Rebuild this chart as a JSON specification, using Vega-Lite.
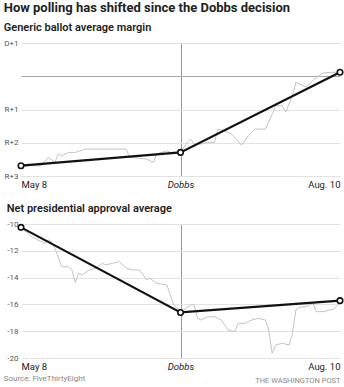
{
  "$schema": "https://vega.github.io/schema/vega-lite/v6.json",
  "background": "white",
  "padding": {"left": 3, "top": 2, "right": 4, "bottom": 3},
  "spacing": 14,
  "title": {"text": "Source: FiveThirtyEight", "orient": "bottom", "anchor": "start", "frame": "bounds", "font": "Roboto", "fontSize": 8, "fontWeight": "normal", "color": "#888", "offset": -9},
  "config": {
    "view": {"stroke": null},
    "font": "Roboto"
  },
  "datasets": {
    "ballot": [
      {"date": "2022-05-08", "value": -2.69}, {"date": "2022-05-14", "value": -2.69}, {"date": "2022-05-16", "value": -2.44},
      {"date": "2022-05-18", "value": -2.59}, {"date": "2022-05-19", "value": -2.34}, {"date": "2022-05-20", "value": -2.39},
      {"date": "2022-05-22", "value": -2.29}, {"date": "2022-05-24", "value": -2.29}, {"date": "2022-05-27", "value": -2.19},
      {"date": "2022-06-08", "value": -2.19}, {"date": "2022-06-09", "value": -2.44}, {"date": "2022-06-14", "value": -2.49},
      {"date": "2022-06-16", "value": -2.59}, {"date": "2022-06-17", "value": -2.34}, {"date": "2022-06-20", "value": -2.24},
      {"date": "2022-06-21", "value": -2.29}, {"date": "2022-06-24", "value": -2.29}, {"date": "2022-06-26", "value": -1.99},
      {"date": "2022-06-27", "value": -1.89}, {"date": "2022-06-28", "value": -2.04}, {"date": "2022-06-30", "value": -2.04},
      {"date": "2022-07-02", "value": -1.99}, {"date": "2022-07-04", "value": -1.99}, {"date": "2022-07-05", "value": -1.59},
      {"date": "2022-07-07", "value": -1.64}, {"date": "2022-07-09", "value": -1.74}, {"date": "2022-07-10", "value": -1.84},
      {"date": "2022-07-12", "value": -2.07}, {"date": "2022-07-14", "value": -1.79}, {"date": "2022-07-16", "value": -1.59},
      {"date": "2022-07-19", "value": -1.59}, {"date": "2022-07-21", "value": -1.14}, {"date": "2022-07-22", "value": -0.89},
      {"date": "2022-07-24", "value": -0.89}, {"date": "2022-07-25", "value": -1.08}, {"date": "2022-07-27", "value": -0.58},
      {"date": "2022-07-28", "value": -0.18}, {"date": "2022-07-29", "value": -0.23}, {"date": "2022-07-31", "value": -0.33},
      {"date": "2022-08-02", "value": -0.13}, {"date": "2022-08-05", "value": 0.1}, {"date": "2022-08-08", "value": 0.12},
      {"date": "2022-08-10", "value": 0.12}
    ],
    "ballotTrend": [
      {"date": "2022-05-08", "value": -2.69}, {"date": "2022-06-24", "value": -2.29}, {"date": "2022-08-10", "value": 0.12}
    ],
    "approval": [
      {"date": "2022-05-08", "value": -10.2}, {"date": "2022-05-11", "value": -10.95}, {"date": "2022-05-12", "value": -11.07},
      {"date": "2022-05-14", "value": -11.32}, {"date": "2022-05-15", "value": -11.44}, {"date": "2022-05-16", "value": -11.19},
      {"date": "2022-05-17", "value": -11.32}, {"date": "2022-05-18", "value": -11.81}, {"date": "2022-05-20", "value": -13.19},
      {"date": "2022-05-22", "value": -13.19}, {"date": "2022-05-23", "value": -13.43}, {"date": "2022-05-24", "value": -14.38},
      {"date": "2022-05-25", "value": -13.68}, {"date": "2022-05-26", "value": -13.81}, {"date": "2022-05-28", "value": -13.43},
      {"date": "2022-05-30", "value": -13.31}, {"date": "2022-06-01", "value": -12.93}, {"date": "2022-06-02", "value": -13.06},
      {"date": "2022-06-04", "value": -12.93}, {"date": "2022-06-06", "value": -12.81}, {"date": "2022-06-08", "value": -13.31},
      {"date": "2022-06-10", "value": -13.43}, {"date": "2022-06-12", "value": -13.43}, {"date": "2022-06-14", "value": -14.18},
      {"date": "2022-06-15", "value": -14.05}, {"date": "2022-06-17", "value": -14.43}, {"date": "2022-06-20", "value": -14.55},
      {"date": "2022-06-21", "value": -15.3}, {"date": "2022-06-22", "value": -16.04}, {"date": "2022-06-24", "value": -16.54},
      {"date": "2022-06-25", "value": -16.4}, {"date": "2022-06-27", "value": -16.04}, {"date": "2022-06-28", "value": -16.04},
      {"date": "2022-06-29", "value": -17.04}, {"date": "2022-06-30", "value": -17.16}, {"date": "2022-07-02", "value": -16.92},
      {"date": "2022-07-04", "value": -16.92}, {"date": "2022-07-06", "value": -17.16}, {"date": "2022-07-08", "value": -17.91},
      {"date": "2022-07-10", "value": -18.04}, {"date": "2022-07-11", "value": -17.41}, {"date": "2022-07-13", "value": -17.41},
      {"date": "2022-07-15", "value": -17.16}, {"date": "2022-07-17", "value": -17.04}, {"date": "2022-07-19", "value": -17.16},
      {"date": "2022-07-20", "value": -17.91}, {"date": "2022-07-21", "value": -19.65}, {"date": "2022-07-22", "value": -19.03},
      {"date": "2022-07-24", "value": -18.9}, {"date": "2022-07-26", "value": -19.03}, {"date": "2022-07-27", "value": -18.16},
      {"date": "2022-07-28", "value": -16.42}, {"date": "2022-07-29", "value": -16.22}, {"date": "2022-07-31", "value": -16.17},
      {"date": "2022-08-02", "value": -15.92}, {"date": "2022-08-03", "value": -16.54}, {"date": "2022-08-05", "value": -16.54},
      {"date": "2022-08-07", "value": -16.42}, {"date": "2022-08-08", "value": -16.37}, {"date": "2022-08-10", "value": -15.92}
    ],
    "approvalTrend": [
      {"date": "2022-05-08", "value": -10.25}, {"date": "2022-06-24", "value": -16.6}, {"date": "2022-08-10", "value": -15.72}
    ]
  },
  "vconcat": [
    {
      "width": 319,
      "height": 133,
      "title": {
        "text": "How polling has shifted since the Dobbs decision",
        "subtitle": "Generic ballot average margin",
        "anchor": "start", "frame": "bounds",
        "font": "Roboto", "fontSize": 13, "fontWeight": "bold", "color": "#222",
        "subtitleFont": "Roboto", "subtitleFontSize": 11, "subtitleFontWeight": 600, "subtitleColor": "#222",
        "subtitlePadding": 7, "offset": 6
      },
      "encoding": {
        "x": {
          "field": "date", "type": "temporal", "title": null,
          "scale": {"type": "utc", "domain": [{"year": 2022, "month": 5, "date": 8, "utc": true}, {"year": 2022, "month": 8, "date": 10, "utc": true}]},
          "axis": {
            "domain": false, "ticks": false, "grid": true, "gridWidth": 1,
            "gridColor": {"condition": {"test": "utcmonth(datum.value) == 5", "value": "#9a9a9a"}, "value": "rgba(0,0,0,0)"},
            "values": [{"year": 2022, "month": 5, "date": 8, "utc": true}, {"year": 2022, "month": 6, "date": 24, "utc": true}, {"year": 2022, "month": 8, "date": 10, "utc": true}],
            "labelExpr": "utcmonth(datum.value) == 4 ? 'May 8' : utcmonth(datum.value) == 5 ? 'Dobbs' : 'Aug. 10'",
            "labelFlush": true, "labelFont": "Roboto", "labelFontSize": 9.5, "labelColor": "#222", "labelPadding": 3,
            "labelFontStyle": {"condition": {"test": "utcmonth(datum.value) == 5", "value": "italic"}, "value": "normal"}
          }
        },
        "y": {
          "field": "value", "type": "quantitative", "title": null,
          "scale": {"domain": [-3, 1], "nice": false, "zero": false},
          "axis": {
            "domain": false, "ticks": false, "grid": true, "gridWidth": 1, "labelOverlap": false,
            "values": [1, 0, -1, -2, -3],
            "labelExpr": "datum.value > 0 ? 'D+' + datum.value : datum.value < 0 ? 'R+' + (-datum.value) : ''",
            "labelFont": "Roboto", "labelFontSize": 8, "labelColor": "#555", "labelPadding": 3,
            "gridColor": {"condition": {"test": "datum.value == 0", "value": "#a8a8a8"}, "value": "#e2e2e2"}
          }
        }
      },
      "layer": [
        {
          "data": {"name": "ballot"},
          "mark": {"type": "line", "color": "#c4c4c4", "strokeWidth": 1}
        },
        {
          "data": {"name": "ballotTrend"},
          "mark": {"type": "line", "color": "#111", "strokeWidth": 2.2}
        },
        {
          "data": {"name": "ballotTrend"},
          "mark": {"type": "point", "filled": true, "fill": "white", "stroke": "#111", "strokeWidth": 1.6, "size": 30, "opacity": 1}
        }
      ]
    },
    {
      "width": 319,
      "height": 134,
      "title": {
        "text": "Net presidential approval average",
        "anchor": "start", "frame": "bounds",
        "font": "Roboto", "fontSize": 11, "fontWeight": 600, "color": "#222", "offset": 6
      },
      "encoding": {
        "x": {
          "field": "date", "type": "temporal",
          "scale": {"type": "utc", "domain": [{"year": 2022, "month": 5, "date": 8, "utc": true}, {"year": 2022, "month": 8, "date": 10, "utc": true}]},
          "axis": {
            "title": "THE WASHINGTON POST", "titleAnchor": "end", "titleFont": "Roboto", "titleFontSize": 7.5, "titleFontWeight": "normal", "titleColor": "#888", "titlePadding": 6,
            "domain": false, "ticks": false, "grid": true, "gridWidth": 1,
            "gridColor": {"condition": {"test": "utcmonth(datum.value) == 5", "value": "#9a9a9a"}, "value": "rgba(0,0,0,0)"},
            "values": [{"year": 2022, "month": 5, "date": 8, "utc": true}, {"year": 2022, "month": 6, "date": 24, "utc": true}, {"year": 2022, "month": 8, "date": 10, "utc": true}],
            "labelExpr": "utcmonth(datum.value) == 4 ? 'May 8' : utcmonth(datum.value) == 5 ? 'Dobbs' : 'Aug. 10'",
            "labelFlush": true, "labelFont": "Roboto", "labelFontSize": 9.5, "labelColor": "#222", "labelPadding": 3,
            "labelFontStyle": {"condition": {"test": "utcmonth(datum.value) == 5", "value": "italic"}, "value": "normal"}
          }
        },
        "y": {
          "field": "value", "type": "quantitative", "title": null,
          "scale": {"domain": [-20, -10], "nice": false, "zero": false},
          "axis": {
            "domain": false, "ticks": false, "grid": true, "gridWidth": 1, "labelOverlap": false,
            "values": [-10, -12, -14, -16, -18, -20],
            "labelExpr": "'' + datum.value",
            "labelFont": "Roboto", "labelFontSize": 8, "labelColor": "#555", "labelPadding": 3,
            "gridColor": "#e2e2e2"
          }
        }
      },
      "layer": [
        {
          "data": {"name": "approval"},
          "mark": {"type": "line", "color": "#c4c4c4", "strokeWidth": 1}
        },
        {
          "data": {"name": "approvalTrend"},
          "mark": {"type": "line", "color": "#111", "strokeWidth": 2.2}
        },
        {
          "data": {"name": "approvalTrend"},
          "mark": {"type": "point", "filled": true, "fill": "white", "stroke": "#111", "strokeWidth": 1.6, "size": 30, "opacity": 1}
        }
      ]
    }
  ]
}
